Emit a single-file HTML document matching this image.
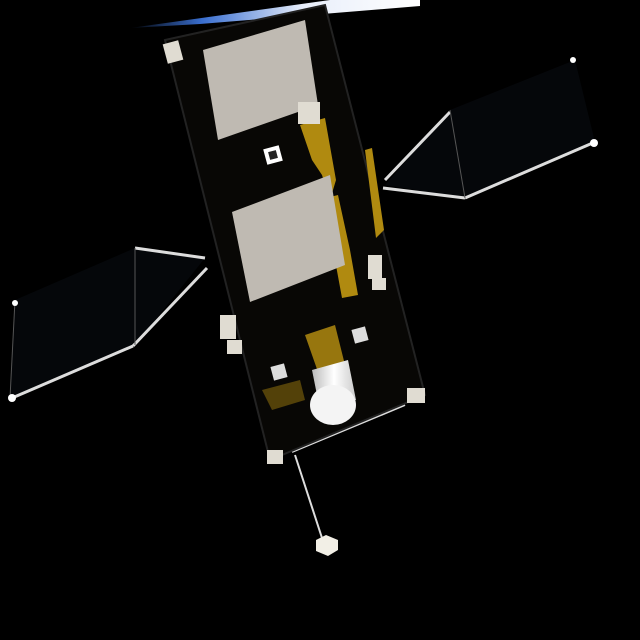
<!DOCTYPE html>
<html><head><meta charset="utf-8"><style>
html,body{margin:0;padding:0;background:#000;}
svg{display:block;}
</style></head><body>
<svg width="640" height="640" viewBox="0 0 640 640">
<defs>
<linearGradient id="hz" x1="0" y1="0" x2="1" y2="0">
<stop offset="0" stop-color="#000"/><stop offset="0.25" stop-color="#3a6fd0"/><stop offset="0.6" stop-color="#e8eefa"/><stop offset="1" stop-color="#fff"/>
</linearGradient>
<linearGradient id="cyl" x1="0" y1="0" x2="1" y2="0">
<stop offset="0" stop-color="#bbb"/><stop offset="0.5" stop-color="#fff"/><stop offset="1" stop-color="#ccc"/>
</linearGradient>
</defs>
<rect width="640" height="640" fill="#000"/>
<polygon points="130,28 330,0 420,0 420,6 200,24" fill="url(#hz)"/>
<g stroke="#ddd" stroke-width="3" fill="none">
<polygon points="135,248 205,258 135,345 10,398 15,300" fill="#05070a" stroke="none"/>
<line x1="135" y1="248" x2="205" y2="258"/>
<line x1="207" y1="268" x2="133" y2="346"/>
<line x1="133" y1="346" x2="12" y2="398"/>
<line x1="135" y1="248" x2="135" y2="345" stroke-width="1" stroke="#555"/>
<line x1="10" y1="398" x2="15" y2="300" stroke-width="1" stroke="#555"/>
</g>
<g stroke="#ddd" stroke-width="3" fill="none">
<polygon points="385,185 450,110 575,60 595,142 465,198" fill="#05070a" stroke="none"/>
<line x1="383" y1="188" x2="465" y2="198"/>
<line x1="450" y1="112" x2="385" y2="180"/>
<line x1="465" y1="198" x2="595" y2="142"/>
<line x1="450" y1="110" x2="465" y2="198" stroke-width="1" stroke="#555"/>
</g>
<circle cx="12" cy="398" r="4" fill="#fff"/>
<circle cx="15" cy="303" r="3" fill="#fff"/>
<circle cx="573" cy="60" r="3" fill="#fff"/>
<circle cx="594" cy="143" r="4" fill="#fff"/>
<line x1="295" y1="455" x2="322" y2="538" stroke="#ddd" stroke-width="2"/>
<line x1="292" y1="452" x2="405" y2="405" stroke="#ddd" stroke-width="2"/>
<polygon points="316,540 326,535 338,540 338,550 328,556 316,551" fill="#f2efe6"/>
<polygon points="165,40 325,5 425,395 270,460" fill="#080705" stroke="#222" stroke-width="2"/>
<g fill="#b08a10">
<polygon points="300,125 325,118 336,180 330,200 322,175 312,160"/>
<polygon points="318,200 338,195 350,250 358,295 342,298 335,260 325,230"/>
<polygon points="365,150 372,148 384,230 376,238"/>
<polygon points="305,335 335,325 345,365 318,372" opacity="0.85"/>
<polygon points="262,390 300,380 305,400 272,410" opacity="0.45"/>
</g>
<polygon points="203,50 305,20 318,105 218,140" fill="#bfbab2"/>
<polygon points="232,212 330,175 345,265 250,302" fill="#bfbab2"/>
<rect x="265" y="147" width="16" height="16" fill="#fff" transform="rotate(-15 273 155)"/>
<rect x="269" y="151" width="8" height="8" fill="#222" transform="rotate(-15 273 155)"/>
<rect x="353" y="328" width="14" height="14" fill="#ddd" transform="rotate(-15 360 335)"/>
<rect x="272" y="365" width="14" height="14" fill="#ddd" transform="rotate(-15 279 372)"/>
<g fill="#e0dcd2">
<rect x="165" y="42" width="16" height="20" transform="rotate(-15 173 52)"/>
<rect x="220" y="315" width="16" height="24"/>
<rect x="227" y="340" width="15" height="14"/>
<rect x="368" y="255" width="14" height="24"/>
<rect x="372" y="278" width="14" height="12"/>
<rect x="267" y="450" width="16" height="14"/>
<rect x="407" y="388" width="18" height="15"/>
<rect x="298" y="102" width="22" height="22"/>
</g>
<g>
<polygon points="312,370 348,360 356,400 320,410" fill="url(#cyl)"/>
<ellipse cx="333" cy="405" rx="23" ry="20" fill="#f4f4f4"/>
</g>
</svg>
</body></html>
